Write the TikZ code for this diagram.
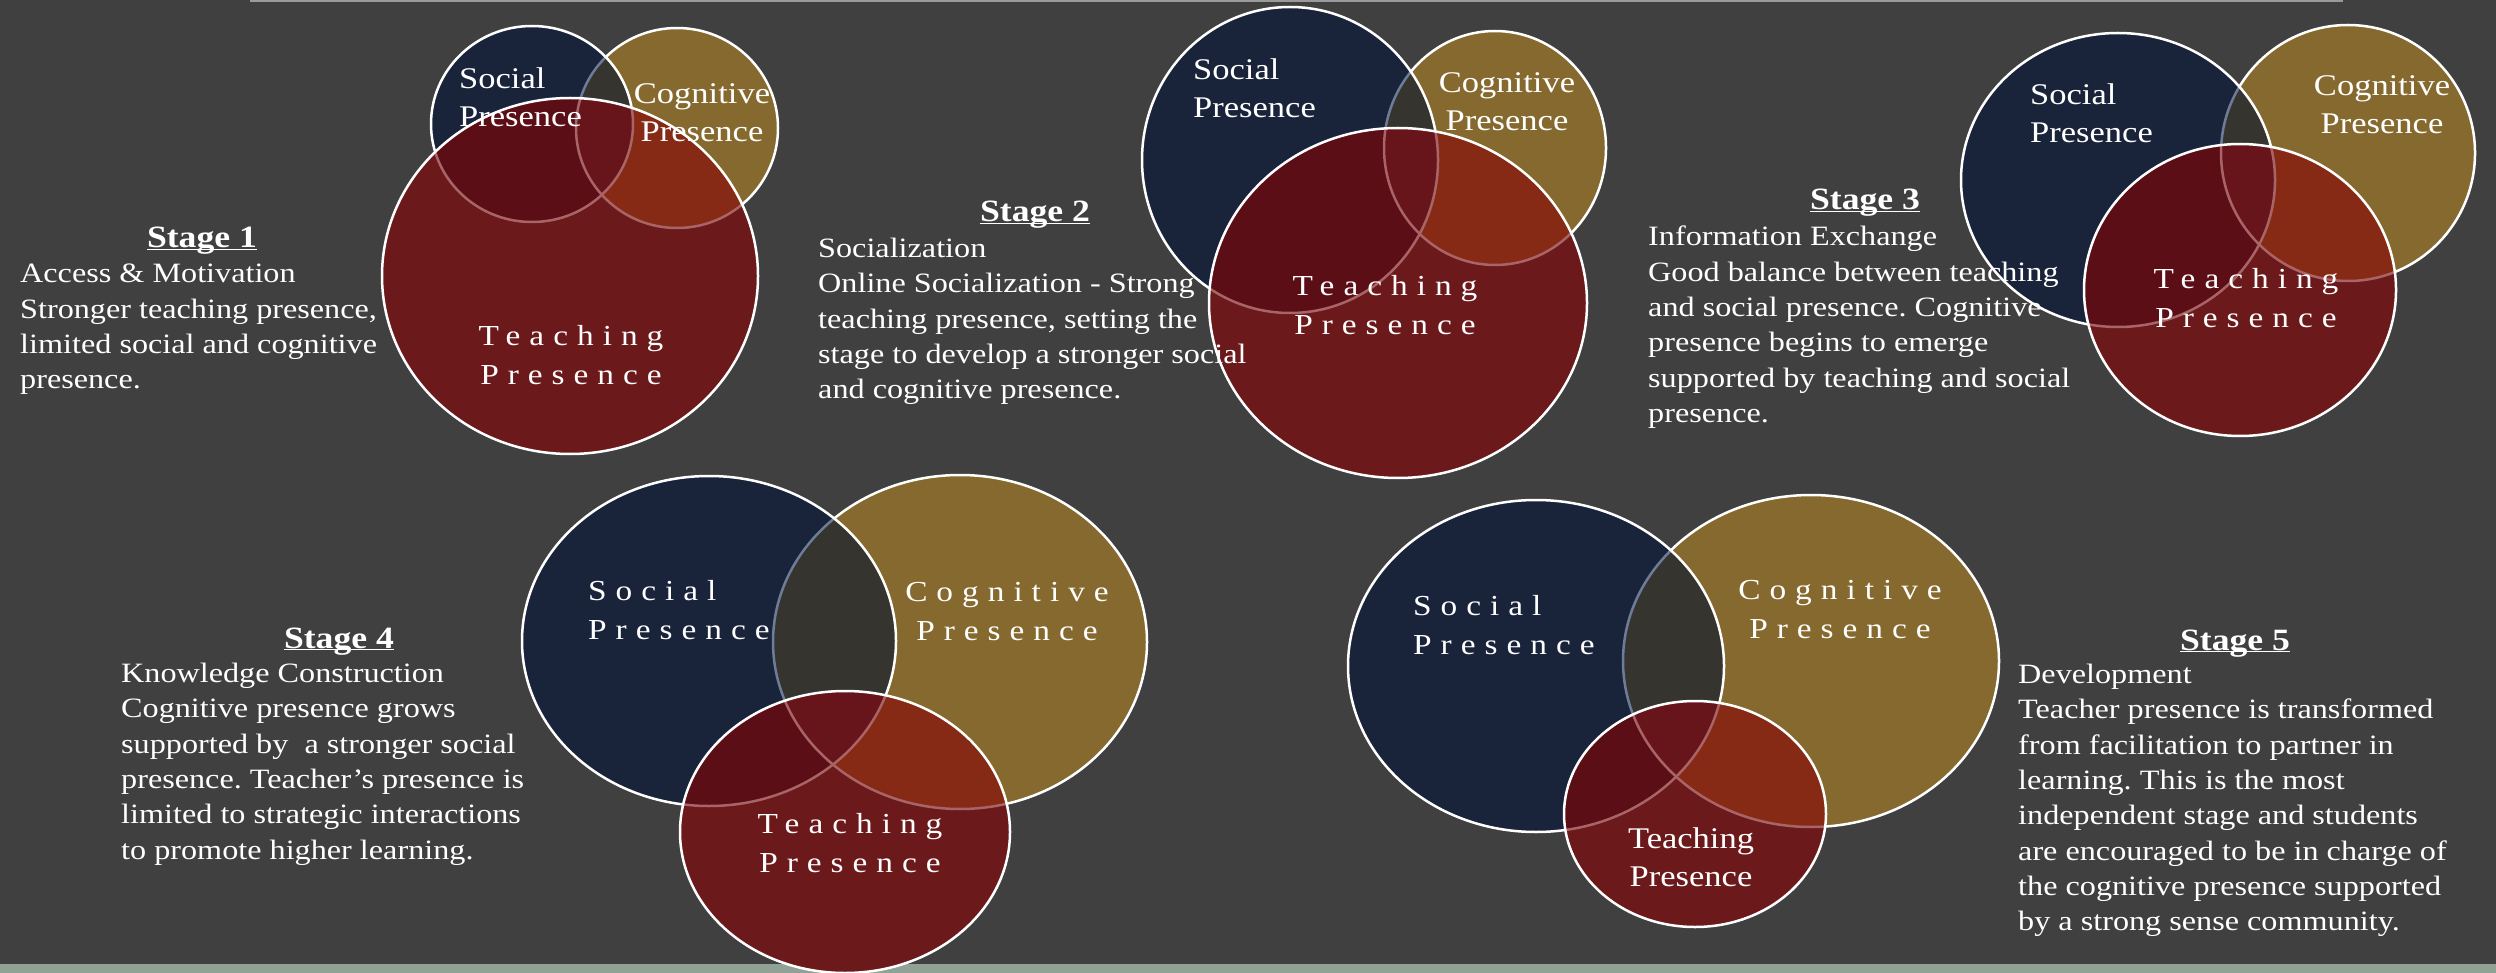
\documentclass[tikz,border=0pt]{standalone}
\usepackage{fontspec}
\setmainfont{Liberation Serif}[FakeStretch=1.15]
\newfontfamily\spacedfont{Liberation Serif}[FakeStretch=1.15,LetterSpace=31]
\usepackage{tikz}
\usetikzlibrary{positioning}
\frenchspacing

\definecolor{bgcol}{HTML}{404040}
\definecolor{stripcol}{HTML}{90A295}
\definecolor{topcol}{HTML}{9A9A9A}
\definecolor{soccol}{HTML}{19233A}
\definecolor{cogcol}{HTML}{86692E}
\definecolor{lenscol}{HTML}{36342F}
\definecolor{teachcol}{HTML}{6B191B}
\definecolor{tscol}{HTML}{5C0E16}
\definecolor{tccol}{HTML}{862A15}
\definecolor{triplecol}{HTML}{67151A}
\definecolor{faintblue}{HTML}{6D7C98}
\definecolor{faintpink}{HTML}{A86466}

\tikzstyle{rim} = [draw=white, line width=2.5pt]
\tikzstyle{vlabel} = [text=white, inner sep=0pt, font=\fontsize{30}{38}\selectfont]
\tikzstyle{spaced} = [text=white, inner sep=0pt, align=center, font=\spacedfont\fontsize{29}{39}\selectfont]
\tikzstyle{heading} = [text=white, inner sep=0pt, anchor=base, font=\bfseries\fontsize{31}{35}\selectfont]
\tikzstyle{body} = [text=white, inner sep=0pt, anchor=north west, align=left, font=\fontsize{28}{35.3}\selectfont]

% one venn: #1 social, #2 cognitive, #3 teaching
\newcommand\venn[3]{%
  \fill[cogcol] #2;
  \draw[rim] #2;
  \fill[soccol] #1;
  \begin{scope}
    \clip #1;
    \fill[lenscol] #2;
    \draw[rim, draw=faintblue] #2;
  \end{scope}
  \draw[rim] #1;
  \fill[teachcol] #3;
  \begin{scope}
    \clip #3;
    \fill[tscol] #1;
    \fill[tccol] #2;
    \begin{scope}
      \clip #1;
      \fill[triplecol] #2;
    \end{scope}
    \draw[rim, draw=faintpink] #1;
    \draw[rim, draw=faintpink] #2;
  \end{scope}
  \draw[rim] #3;
}

\begin{document}
\begin{tikzpicture}[x=1pt, y=-1pt]
    \useasboundingbox (0,0) rectangle (2496,973);
    \fill[bgcol] (0,0) rectangle (2496,973);
    \fill[stripcol] (0,964) rectangle (2496,973);
    \draw[topcol, line width=2.5pt] (250,0.5) -- (2343,0.5);

    % Draw circles
    \venn{(532,124) ellipse (101 and 98)}{(677,128) ellipse (101 and 100)}{(570,276) ellipse (188 and 178)}
    \venn{(1290,160) ellipse (148 and 153)}{(1495,148) ellipse (111 and 117)}{(1398,303) ellipse (189 and 175)}
    \venn{(2118,180) ellipse (157 and 147)}{(2348,153) ellipse (127 and 128)}{(2240,290) ellipse (156 and 146)}
    \venn{(709,641) ellipse (187 and 165)}{(960,642) ellipse (187 and 167)}{(845,832) ellipse (165 and 141)}
    \venn{(1536,666) ellipse (188 and 166)}{(1811,661) ellipse (188 and 166)}{(1695,814) ellipse (131 and 113)}

    % Circle labels
    \node [vlabel, anchor=north west, align=left] (soc1) at (459,67) {Social\\Presence};
    \node [vlabel, anchor=north, align=center] (cog1) at (702,83) {Cognitive\\Presence};
    \node [spaced, anchor=north] (teach1) at (571,325) {Teaching\\Presence};
    \node [vlabel, anchor=north west, align=left] (soc2) at (1193,58) {Social\\Presence};
    \node [vlabel, anchor=north, align=center] (cog2) at (1507,72) {Cognitive\\Presence};
    \node [spaced, anchor=north] (teach2) at (1385,275) {Teaching\\Presence};
    \node [vlabel, anchor=north west, align=left] (soc3) at (2030,83) {Social\\Presence};
    \node [vlabel, anchor=north, align=center] (cog3) at (2382,75) {Cognitive\\Presence};
    \node [spaced, anchor=north] (teach3) at (2246,268) {Teaching\\Presence};
    \node [spaced, anchor=north west, align=left] (soc4) at (588,580) {Social\\Presence};
    \node [spaced, anchor=north] (cog4) at (1007,582) {Cognitive\\Presence};
    \node [spaced, anchor=north] (teach4) at (850,813) {Teaching\\Presence};
    \node [spaced, anchor=north west, align=left] (soc5) at (1413,595) {Social\\Presence};
    \node [spaced, anchor=north] (cog5) at (1840,580) {Cognitive\\Presence};
    \node [vlabel, anchor=north, align=center] (teach5) at (1691,827) {Teaching\\Presence};

    % Stage texts
    \node [heading] (stage1) at (202,248) {\underline{\smash{Stage 1}}};
    \node [body] (text1) at (20,264) {Access \& Motivation\\Stronger teaching presence,\\limited social and cognitive\\presence.};
    \node [heading] (stage2) at (1035,222) {\underline{\smash{Stage 2}}};
    \node [body] (text2) at (818,238) {Socialization\\Online Socialization - Strong\\teaching presence, setting the\\stage to develop a stronger social\\and cognitive presence.};
    \node [heading] (stage3) at (1865,210) {\underline{\smash{Stage 3}}};
    \node [body] (text3) at (1648,226) {Information Exchange\\Good balance between teaching\\and social presence. Cognitive\\presence begins to emerge\\supported by teaching and social\\presence.};
    \node [heading] (stage4) at (339,648) {\underline{\smash{Stage 4}}};
    \node [body] (text4) at (121,663) {Knowledge Construction\\Cognitive presence grows\\supported by\ \ a stronger social\\presence. Teacher’s presence is\\limited to strategic interactions\\to promote higher learning.};
    \node [heading] (stage5) at (2235,650) {\underline{\smash{Stage 5}}};
    \node [body] (text5) at (2018,664) {Development\\Teacher presence is transformed\\from facilitation to partner in\\learning. This is the most\\independent stage and students\\are encouraged to be in charge of\\the cognitive presence supported\\by a strong sense community.};
\end{tikzpicture}
\end{document}
